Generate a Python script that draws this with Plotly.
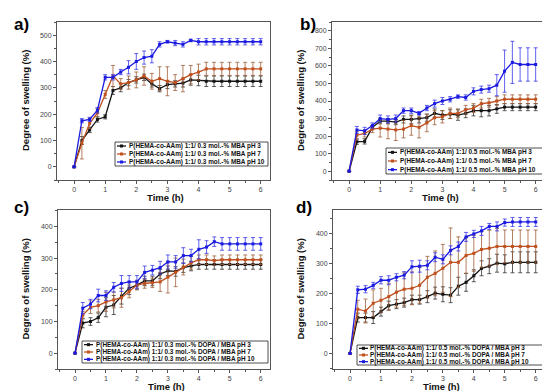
import plotly.graph_objects as go

W, H = 550, 391
time_h = [0, 0.25, 0.5, 0.75, 1, 1.25, 1.5, 1.75, 2, 2.25, 2.5, 2.75, 3, 3.25, 3.5, 3.75,
          4, 4.25, 4.5, 4.75, 5, 5.25, 5.5, 5.75, 6]

# Panel a: 0.3 mol.-% MBA
a_ph3 = [0, 100, 140, 180, 190, 290, 300, 320, 330, 340, 315, 297, 312, 315, 318, 330,
         328, 325, 325, 325, 325, 325, 325, 325, 325]
a_ph3_err = [0, 15, 10, 10, 8, 15, 15, 12, 12, 12, 12, 12, 15, 12, 15, 20,
             20, 20, 20, 20, 20, 20, 20, 20, 20]
a_ph7 = [0, 90, 165, 205, 275, 345, 315, 320, 330, 345, 325, 335, 325, 320, 335, 350,
         360, 372, 372, 372, 372, 372, 372, 372, 372]
a_ph7_err = [0, 60, 20, 15, 15, 40, 20, 25, 30, 35, 30, 45, 55, 30, 50, 35,
             30, 25, 25, 25, 25, 25, 25, 25, 25]
a_ph10 = [0, 175, 180, 215, 340, 340, 360, 378, 400, 415, 420, 465, 475, 470, 465, 480,
          475, 475, 475, 475, 475, 475, 475, 475, 475]
a_ph10_err = [0, 8, 8, 10, 10, 10, 10, 25, 30, 25, 25, 10, 5, 10, 10, 5,
              12, 12, 12, 12, 12, 12, 12, 12, 12]

# Panel b: 0.5 mol.-% MBA
b_ph3 = [0, 168, 170, 250, 285, 285, 280, 295, 295, 300, 305, 330, 320, 325, 320, 330,
         345, 345, 345, 355, 365, 365, 365, 365, 365]
b_ph3_err = [0, 15, 15, 10, 15, 15, 15, 20, 25, 25, 20, 25, 25, 25, 30, 25,
             30, 35, 30, 25, 20, 20, 20, 20, 20]
b_ph7 = [0, 205, 215, 240, 245, 240, 235, 240, 260, 250, 275, 305, 310, 330, 330, 350,
         360, 385, 390, 400, 410, 410, 410, 410, 410]
b_ph7_err = [0, 20, 20, 20, 50, 55, 60, 50, 55, 60, 50, 40, 35, 30, 25, 25,
             25, 25, 25, 25, 25, 25, 25, 25, 25]
b_ph10 = [0, 235, 230, 260, 300, 295, 300, 345, 345, 330, 360, 385, 400, 410, 425, 420,
          455, 465, 470, 490, 570, 620, 608, 608, 608]
b_ph10_err = [0, 20, 20, 15, 20, 20, 20, 15, 15, 10, 15, 20, 20, 15, 10, 15,
              20, 20, 20, 60, 120, 120, 95, 95, 95]

# Panel c: 0.3 mol.-% DOPA / MBA
c_ph3 = [0, 95, 100, 112, 145, 152, 180, 205, 215, 228, 228, 250, 260, 258, 270, 275,
         280, 280, 280, 280, 280, 280, 280, 280, 280]
c_ph3_err = [0, 15, 12, 15, 30, 30, 25, 20, 15, 15, 15, 15, 15, 15, 15, 15,
             15, 15, 15, 15, 15, 15, 15, 15, 15]
c_ph7 = [0, 120, 145, 150, 162, 168, 175, 195, 215, 220, 222, 225, 240, 255, 272, 285,
         295, 295, 292, 295, 295, 295, 295, 295, 295]
c_ph7_err = [0, 12, 20, 20, 30, 25, 30, 20, 12, 15, 15, 30, 50, 45, 25, 20,
             15, 15, 15, 15, 15, 15, 15, 15, 15]
c_ph10 = [0, 142, 155, 182, 182, 208, 220, 225, 225, 255, 262, 270, 288, 288, 308, 308,
          328, 335, 352, 345, 345, 345, 345, 345, 345]
c_ph10_err = [0, 18, 15, 20, 15, 15, 25, 20, 20, 20, 15, 20, 22, 20, 25, 20,
              30, 20, 15, 20, 20, 20, 20, 20, 20]

# Panel d: 0.5 mol.-% DOPA / MBA
d_ph3 = [0, 120, 120, 120, 140, 160, 165, 170, 180, 180, 190, 202, 198, 195, 225, 238,
         260, 285, 292, 302, 300, 305, 305, 305, 305]
d_ph3_err = [0, 15, 15, 20, 15, 15, 15, 15, 15, 15, 20, 20, 25, 25, 30, 30,
             20, 25, 25, 30, 30, 35, 35, 35, 35]
d_ph7 = [0, 148, 142, 168, 178, 190, 205, 215, 218, 228, 255, 268, 285, 305, 305, 328,
         335, 348, 352, 358, 358, 358, 358, 358, 358]
d_ph7_err = [0, 30, 40, 45, 40, 45, 50, 55, 55, 60, 70, 75, 80, 115, 85, 60,
             60, 60, 60, 60, 55, 55, 55, 55, 55]
d_ph10 = [0, 213, 215, 228, 245, 245, 255, 262, 290, 292, 295, 322, 315, 345, 358, 390,
          400, 410, 425, 425, 438, 440, 440, 440, 440]
d_ph10_err = [0, 12, 12, 10, 12, 15, 12, 12, 20, 20, 15, 15, 15, 15, 15, 15,
              12, 15, 10, 15, 12, 15, 15, 15, 15]

labels_a = ["P(HEMA-co-AAm) 1:1/ 0.3 mol.-% MBA pH 3",
            "P(HEMA-co-AAm) 1:1/ 0.3 mol.-% MBA pH 7",
            "P(HEMA-co-AAm) 1:1/ 0.3 mol.-% MBA pH 10"]
labels_b = ["P(HEMA-co-AAm) 1:1/ 0.5 mol.-% MBA pH 3",
            "P(HEMA-co-AAm) 1:1/ 0.5 mol.-% MBA pH 7",
            "P(HEMA-co-AAm) 1:1/ 0.5 mol.-% MBA pH 10"]
labels_c = ["P(HEMA-co-AAm) 1:1/ 0.3 mol.-% DOPA / MBA pH 3",
            "P(HEMA-co-AAm) 1:1/ 0.3 mol.-% DOPA / MBA pH 7",
            "P(HEMA-co-AAm) 1:1/ 0.3 mol.-% DOPA / MBA pH 10"]
labels_d = ["P(HEMA-co-AAm) 1:1/ 0.5 mol.-% DOPA / MBA pH 3",
            "P(HEMA-co-AAm) 1:1/ 0.5 mol.-% DOPA / MBA pH 7",
            "P(HEMA-co-AAm) 1:1/ 0.5 mol.-% DOPA / MBA pH 10"]

line_colors = ["#141414", "#c0501e", "#1a1ae0"]
err_colors = ["#333333", "#a0603a", "#3a3ae8"]

def px(x):
    return x / W

def py(y):
    return 1 - y / H

panels = [
    dict(key="a", series=[(a_ph3, a_ph3_err), (a_ph7, a_ph7_err), (a_ph10, a_ph10_err)],
         labels=labels_a, box=(49, 14, 262, 172), yr=[-50, 550],
         leg=(107, 134, 260, 158), tag=(4, 17), ytx=17),
    dict(key="b", series=[(b_ph3, b_ph3_err), (b_ph7, b_ph7_err), (b_ph10, b_ph10_err)],
         labels=labels_b, box=(324, 14, 537, 172), yr=[-50, 850],
         leg=(378, 140, 536, 166), tag=(290, 17), ytx=292),
    dict(key="c", series=[(c_ph3, c_ph3_err), (c_ph7, c_ph7_err), (c_ph10, c_ph10_err)],
         labels=labels_c, box=(50, 202, 262, 361), yr=[-50, 452],
         leg=(74, 333, 260, 355), tag=(4, 199), ytx=17),
    dict(key="d", series=[(d_ph3, d_ph3_err), (d_ph7, d_ph7_err), (d_ph10, d_ph10_err)],
         labels=labels_d, box=(325, 202, 537, 361), yr=[-52, 480],
         leg=(349, 337, 536, 357), tag=(286, 199), ytx=292),
]

fig = go.Figure()
shapes = []
annotations = []
FONT = "Liberation Sans"
TITLE_FONT = dict(family=FONT, size=9.5, color="#111111", weight="bold")

for i, p in enumerate(panels):
    n = "" if i == 0 else str(i + 1)
    xa, ya = "x" + n, "y" + n
    x0, y0, x1, y1 = p["box"]
    for k, (vals, errs) in enumerate(p["series"]):
        fig.add_trace(go.Scatter(
            x=time_h, y=vals, xaxis=xa, yaxis=ya, mode="lines+markers",
            line=dict(color=line_colors[k], width=1.3),
            marker=dict(symbol="square", size=3, color=line_colors[k]),
            error_y=dict(type="data", array=errs, visible=True,
                         color=err_colors[k], thickness=0.8, width=2),
            showlegend=False, name=p["labels"][k]))
    axis_common = dict(showline=True, linecolor="#555555", linewidth=1, mirror=True,
                       ticks="outside", ticklen=3, tickcolor="#555555",
                       tickfont=dict(family=FONT, size=7, color="#444444"),
                       showgrid=False, zeroline=False)
    fig.update_layout(**{
        ("xaxis" + n): dict(domain=[px(x0), px(x1)], range=[-0.55, 6.3],
                            anchor=ya, tickmode="linear", tick0=0, dtick=1,
                            minor=dict(ticks="outside", ticklen=2, dtick=0.5,
                                       tickcolor="#555555"),
                            **axis_common),
        ("yaxis" + n): dict(domain=[py(y1), py(y0)], range=p["yr"], anchor=xa,
                            tickmode="linear", tick0=0, dtick=100,
                            minor=dict(ticks="outside", ticklen=2, dtick=50,
                                       tickcolor="#555555"),
                            **axis_common),
    })
    # axis titles
    annotations.append(dict(x=px((x0 + x1) / 2 + 2), y=py(y1 + 17), xref="paper",
                            yref="paper", text="Time (h)", showarrow=False,
                            xanchor="center", yanchor="middle", font=TITLE_FONT))
    annotations.append(dict(x=px(p["ytx"]), y=py((y0 + y1) / 2), xref="paper",
                            yref="paper", text="Degree of swelling (%)", showarrow=False,
                            textangle=-90, xanchor="center", yanchor="middle",
                            font=TITLE_FONT))
    # panel tag
    annotations.append(dict(x=px(p["tag"][0]), y=py(p["tag"][1]), xref="paper", yref="paper",
                            text=p["key"] + ")", showarrow=False, xanchor="left",
                            yanchor="middle",
                            font=dict(family=FONT, size=17, color="#000000",
                                      weight="bold")))
    # legend box
    lx0, ly0, lx1, ly1 = p["leg"]
    shapes.append(dict(type="rect", xref="paper", yref="paper",
                       x0=px(lx0), x1=px(lx1), y0=py(ly1), y1=py(ly0),
                       line=dict(color="#222222", width=0.8), fillcolor="white"))
    step = (ly1 - ly0) / 3.0
    for k in range(3):
        yy = ly0 + step * (k + 0.5)
        shapes.append(dict(type="line", xref="paper", yref="paper",
                           x0=px(lx0 + 2), x1=px(lx0 + 11), y0=py(yy), y1=py(yy),
                           line=dict(color=line_colors[k], width=1.3)))
        shapes.append(dict(type="rect", xref="paper", yref="paper",
                           x0=px(lx0 + 5), x1=px(lx0 + 8), y0=py(yy + 1.5),
                           y1=py(yy - 1.5), line=dict(width=0),
                           fillcolor=line_colors[k]))
        annotations.append(dict(x=px(lx0 + 11.5), y=py(yy), xref="paper", yref="paper",
                                text=p["labels"][k], showarrow=False, xanchor="left",
                                yanchor="middle",
                                font=dict(family=FONT, size=6.4, color="#111111",
                                          weight="bold")))

fig.update_layout(width=W, height=H, margin=dict(l=0, r=0, t=0, b=0),
                  paper_bgcolor="white", plot_bgcolor="white",
                  shapes=shapes, annotations=annotations, showlegend=False)
fig.write_html("out.html")
